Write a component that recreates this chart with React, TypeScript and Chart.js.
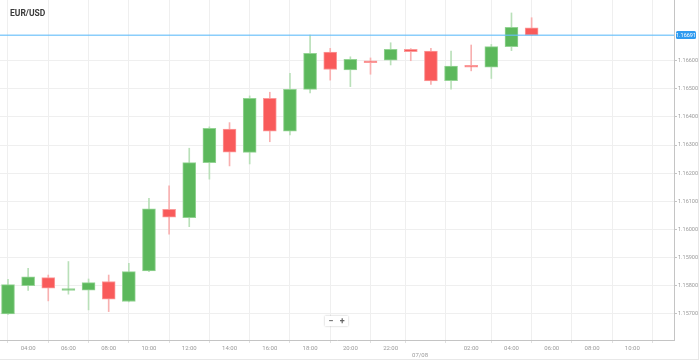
import React, { useEffect, useRef } from "react";
import { Chart, registerables } from "chart.js";
Chart.register(...registerables);

// Hourly candles, 03:00 (06/08) through 05:00 (07/08)
const candleTimes = [
  "03:00", "04:00", "05:00", "06:00", "07:00", "08:00", "09:00", "10:00", "11:00",
  "12:00", "13:00", "14:00", "15:00", "16:00", "17:00", "18:00", "19:00", "20:00",
  "21:00", "22:00", "23:00", "00:00", "01:00", "02:00", "03:00", "04:00", "05:00",
];
const opens = [
  1.157, 1.158, 1.15829, 1.15783, 1.15784, 1.15815, 1.15744, 1.15853, 1.16072,
  1.16042, 1.16238, 1.16357, 1.16274, 1.16466, 1.1635, 1.16498, 1.16631, 1.16567,
  1.16599, 1.16602, 1.16641, 1.16634, 1.16529, 1.16581, 1.16577, 1.1665, 1.16717,
];
const highs = [
  1.15823, 1.15862, 1.15838, 1.15886, 1.15824, 1.15838, 1.1588, 1.16111, 1.16155,
  1.16289, 1.16365, 1.1638, 1.16475, 1.16488, 1.16555, 1.16691, 1.16644, 1.16614,
  1.1661, 1.16664, 1.16643, 1.16644, 1.16634, 1.16656, 1.16658, 1.1677, 1.16753,
];
const lows = [
  1.15698, 1.15783, 1.15746, 1.1577, 1.15714, 1.15708, 1.15742, 1.1585, 1.15983,
  1.1601, 1.16179, 1.16226, 1.16233, 1.16312, 1.16336, 1.16486, 1.16531, 1.16508,
  1.16552, 1.16585, 1.166, 1.16516, 1.16499, 1.16564, 1.16537, 1.16636, 1.1669,
];
const closes = [
  1.15804, 1.15832, 1.15791, 1.15788, 1.15811, 1.15752, 1.1585, 1.16073, 1.16044,
  1.16238, 1.1636, 1.16275, 1.16466, 1.1635, 1.16498, 1.16626, 1.16569, 1.16605,
  1.16593, 1.16641, 1.16632, 1.16528, 1.16581, 1.16577, 1.1665, 1.16719, 1.16691,
];

const yTicks = [1.157, 1.158, 1.159, 1.16, 1.161, 1.162, 1.163, 1.164, 1.165, 1.166];
const xTickLabels = [
  "04:00", "06:00", "08:00", "10:00", "12:00", "14:00", "16:00", "18:00", "20:00",
  "22:00", "07/08", "02:00", "04:00", "06:00", "08:00", "10:00",
];
// hours since first candle (03:00) for each x tick label
const xTickHours = [1, 3, 5, 7, 9, 11, 13, 15, 17, 19, 20.46, 23, 25, 27, 29, 31];
const dateLabel = "07/08";
const titleText = "EUR/USD";

const UP = "#5cb85c";
const DOWN = "#f95a5a";
const UP_BORDER = "#94d394";
const DOWN_BORDER = "#fb9a9a";
const UP_WICK = "#b9e0b9";
const DOWN_WICK = "#f8b0b0";
const FONT = "Roboto, 'DejaVu Sans', sans-serif";

export default function App() {
  const ref = useRef<HTMLCanvasElement>(null);

  useEffect(() => {
    const idx = opens.map((_, i) => i);
    const up = idx.map((i) => closes[i] >= opens[i]);
    const last = closes[closes.length - 1];

    const priceLine = {
      id: "priceLine",
      afterDatasetsDraw(chart: any) {
        const { ctx, chartArea, scales } = chart;
        const y = Math.round(scales.y.getPixelForValue(last));
        ctx.save();
        ctx.fillStyle = "rgba(100, 190, 250, 0.75)";
        ctx.fillRect(chartArea.left, y - 0.5, chartArea.right - chartArea.left, 1.5);
        const bx = chartArea.right + 2;
        const bw = 20;
        const bh = 8;
        ctx.fillStyle = "#2f9bf0";
        ctx.beginPath();
        (ctx as any).roundRect(bx, y - bh / 2, bw, bh, 1.5);
        ctx.fill();
        ctx.fillStyle = "#ffffff";
        ctx.font = `5.5px ${FONT}`;
        ctx.textAlign = "center";
        ctx.textBaseline = "middle";
        ctx.fillText(last.toFixed(5), bx + bw / 2, y + 0.5);
        ctx.restore();
      },
    };

    const chart = new Chart(ref.current!, {
      type: "bar",
      data: {
        datasets: [
          {
            data: idx.map((i) => ({ x: i, y: [lows[i], highs[i]] })) as any,
            backgroundColor: up.map((u) => (u ? UP_WICK : DOWN_WICK)),
            barThickness: 1,
            grouped: false,
            order: 2,
          } as any,
          {
            data: idx.map((i) => ({ x: i, y: [opens[i], closes[i]] })) as any,
            backgroundColor: up.map((u) => (u ? UP : DOWN)),
            borderColor: up.map((u) => (u ? UP_BORDER : DOWN_BORDER)),
            borderWidth: 1,
            borderSkipped: false,
            barThickness: 13,
            minBarLength: 2,
            grouped: false,
            order: 1,
          } as any,
        ],
      },
      options: {
        responsive: false,
        animation: false,
        maintainAspectRatio: false,
        layout: { padding: 0 },
        plugins: {
          legend: { display: false },
          tooltip: { enabled: false },
          title: { display: false },
        },
        scales: {
          x: {
            type: "linear",
            position: "bottom",
            min: -0.397,
            max: 33.07,
            offset: false,
            afterBuildTicks: (s: any) => {
              s.ticks = xTickHours.map((v) => ({ value: v }));
            },
            afterFit: (s: any) => {
              s.height = 20;
              s.paddingLeft = 0;
              s.paddingRight = 0;
            },
            ticks: {
              autoSkip: false,
              maxRotation: 0,
              padding: 2,
              color: "#9a9a9a",
              font: { size: 6, family: FONT },
              callback: (_v: any, i: number) =>
                xTickLabels[i] === dateLabel ? ["", dateLabel] : xTickLabels[i],
            },
            grid: { color: "#efefef", tickColor: "#e0e0e0", tickLength: 3 },
            border: { color: "#c4c4c4" },
          } as any,
          y: {
            type: "linear",
            position: "right",
            min: 1.15607,
            max: 1.16816,
            afterBuildTicks: (s: any) => {
              s.ticks = yTicks.map((v) => ({ value: v }));
            },
            afterFit: (s: any) => {
              s.width = 25;
              s.paddingTop = 0;
              s.paddingBottom = 0;
            },
            ticks: {
              padding: 1,
              color: "#9a9a9a",
              font: { size: 5.5, family: FONT },
              callback: (v: any) => Number(v).toFixed(5),
            },
            grid: { color: "#efefef", tickColor: "#c4c4c4", tickLength: 3 },
            border: { color: "#c4c4c4" },
          } as any,
        },
      },
      plugins: [priceLine],
    });
    return () => chart.destroy();
  }, []);

  return (
    <div style={{ position: "absolute", left: 0, top: 0, width: 699, height: 360, background: "#fff" }}>
      <canvas ref={ref} width={699} height={360} style={{ position: "absolute", left: 0, top: 0 }} />
      <div
        style={{
          position: "absolute",
          left: 10,
          top: 8,
          fontFamily: FONT,
          fontWeight: 700,
          fontSize: 8.5,
          lineHeight: "10px",
          color: "#3a3a3a",
        }}
      >
        {titleText}
      </div>
      <div
        style={{
          position: "absolute",
          left: 325,
          top: 316,
          width: 23,
          height: 10,
          background: "#fff",
          boxShadow: "0 0 2px rgba(0,0,0,0.25)",
          display: "flex",
          justifyContent: "space-around",
          alignItems: "center",
          fontFamily: FONT,
          fontWeight: 700,
          fontSize: 9,
          lineHeight: "10px",
          color: "#666",
        }}
      >
        <span>−</span>
        <span>+</span>
      </div>
      <div style={{ position: "absolute", left: 698, top: 0, width: 1, height: 360, background: "#e8e8e8" }} />
      <div style={{ position: "absolute", left: 0, top: 359, width: 699, height: 1, background: "#e8e8e8" }} />
    </div>
  );
}
